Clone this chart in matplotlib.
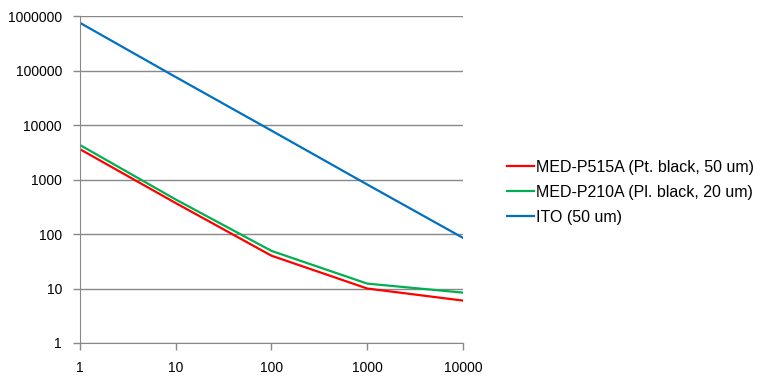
import matplotlib
matplotlib.use("Agg")
import matplotlib.pyplot as plt
from matplotlib.ticker import FixedLocator, FixedFormatter, NullLocator

plt.rcParams['font.family'] = ['Liberation Sans', 'DejaVu Sans']

# Data
freq = [1, 10, 100, 1000, 10000]
med_p515a = [3600, 370, 40, 10, 6]
med_p210a = [4300, 430, 49, 12.3, 8.4]
ito = [750000, 76000, 7900, 810, 85]
labels = ["MED-P515A (Pt. black, 50 um)", "MED-P210A (Pl. black, 20 um)", "ITO (50 um)"]
colors = ["#FF0000", "#00B050", "#0070C0"]

fig = plt.figure(figsize=(7.66, 3.82), dpi=100)
ax = fig.add_axes([0.1044, 0.1021, 0.5, 0.8559])

for ys, lab, c in zip([med_p515a, med_p210a, ito], labels, colors):
    ax.plot(freq, ys, color=c, lw=1.6, label=lab)

ax.set_xscale("log")
ax.set_yscale("log")
ax.set_xlim(1, 10000)
ax.set_ylim(1, 1000000)

xt = [1, 10, 100, 1000, 10000]
yt = [1, 10, 100, 1000, 10000, 100000, 1000000]
ax.xaxis.set_major_locator(FixedLocator(xt))
ax.xaxis.set_major_formatter(FixedFormatter([str(v) for v in xt]))
ax.yaxis.set_major_locator(FixedLocator(yt))
ax.yaxis.set_major_formatter(FixedFormatter([str(v) for v in yt]))
ax.xaxis.set_minor_locator(NullLocator())
ax.yaxis.set_minor_locator(NullLocator())

ax.grid(axis="y", color="#888888", lw=1)
ax.set_axisbelow(True)
for s in ["top", "right"]:
    ax.spines[s].set_visible(False)
for s in ["left", "bottom"]:
    ax.spines[s].set_color("#888888")
ax.tick_params(axis="both", colors="#888888", labelcolor="black", labelsize=10, length=5, width=1)
ax.tick_params(axis="x", pad=8)
ax.tick_params(axis="y", pad=8)

leg = fig.legend(loc="center left", bbox_to_anchor=(0.643, 0.497), frameon=False,
                 fontsize=11.5, handlelength=1.7, handletextpad=0.1, labelspacing=0.62)

fig.savefig("out.png", dpi=100)
